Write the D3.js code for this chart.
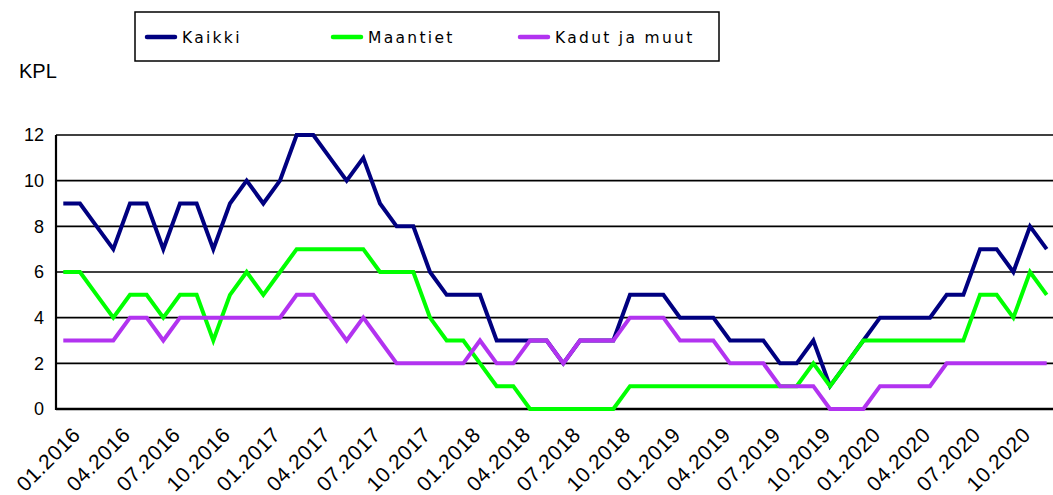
<!DOCTYPE html>
<html>
<head>
<meta charset="utf-8">
<script src="https://cdn.jsdelivr.net/npm/d3@7"></script>
<style>
  body { margin: 0; background: #fff; }
  svg { display: block; }
  .tick text { font-family: "Liberation Sans", Arial, sans-serif; }
</style>
</head>
<body>
<div id="chart"></div>
<script>
const months = [];
["2016", "2017", "2018", "2019", "2020"].forEach((yr) => {
  for (let m = 1; m <= 12; m++) months.push((m < 10 ? "0" + m : "" + m) + "." + yr);
});

const kaikki = [9,9,8,7,9,9,7,9,9,7,9,10,9,10,12,12,
  11,10,11,9,8,8,6,5,5,5,3,3,3,
  3,2,3,3,3,
  5,5,5,4,4,4,3,3,3,2,
  2,3,1,2,3,4,4,4,4,5,5,7,7,6,8,7];

const maantiet = [6,6,5,4,5,5,4,5,5,3,5,6,5,6,7,7,
  7,7,7,6,6,6,4,3,3,2,1,1,0,
  0,0,0,0,0,
  1,1,1,1,1,1,1,1,1,1,
  1,2,1,2,3,3,3,3,3,3,3,5,5,4,6,5];

const kadut = [3,3,3,3,4,4,3,4,4,4,4,4,4,4,5,5,
  4,3,4,3,2,2,2,2,2,3,2,2,3,
  3,2,3,3,3,
  4,4,4,3,3,3,2,2,2,1,
  1,1,0,0,0,1,1,1,1,2,2,2,2,2,2,2];

const yTicks = [0, 2, 4, 6, 8, 10, 12];

const seriesNames = ["Kaikki", "Maantiet", "Kadut ja muut"];
const seriesColors = ["#000080", "#00ff00", "#b233f0"];
const seriesValues = [kaikki, maantiet, kadut];

const W = 1053, H = 495;
const plotLeft = 56, plotRight = 1053, plotTop = 135, plotBottom = 409;

const svg = d3.select("#chart")
  .append("svg")
  .attr("width", W)
  .attr("height", H);

const x = d3.scalePoint()
  .domain(months)
  .range([63.3, 1046.7]);

const y = d3.scaleLinear()
  .domain([0, 12])
  .range([plotBottom, plotTop]);

// gridlines
svg.append("g")
  .selectAll("line")
  .data(yTicks.filter((d) => d > 0))
  .join("line")
  .attr("x1", plotLeft)
  .attr("x2", plotRight)
  .attr("y1", (d) => y(d))
  .attr("y2", (d) => y(d))
  .attr("stroke", "#000")
  .attr("stroke-width", 1.6);

// y axis
const yAxis = svg.append("g")
  .attr("transform", "translate(" + plotLeft + ",0)")
  .call(d3.axisLeft(y).tickValues(yTicks).tickSize(0).tickPadding(12));
yAxis.select(".domain").remove();
yAxis.selectAll("text")
  .attr("font-size", 18)
  .attr("fill", "#000");

svg.append("line")
  .attr("x1", plotLeft)
  .attr("x2", plotLeft)
  .attr("y1", plotTop)
  .attr("y2", plotBottom + 1)
  .attr("stroke", "#000")
  .attr("stroke-width", 2.2);

svg.append("line")
  .attr("x1", plotLeft)
  .attr("x2", plotRight)
  .attr("y1", plotBottom)
  .attr("y2", plotBottom)
  .attr("stroke", "#000")
  .attr("stroke-width", 2.4);

// x labels
const xAxis = svg.append("g")
  .attr("transform", "translate(0," + plotBottom + ")")
  .call(d3.axisBottom(x).tickValues(months.filter((d, i) => i % 3 === 0)).tickSize(0));
xAxis.select(".domain").remove();
xAxis.selectAll("text")
  .attr("font-size", 21)
  .attr("letter-spacing", 0.6)
  .attr("fill", "#000")
  .attr("text-anchor", "end")
  .attr("dy", 0)
  .attr("y", 0)
  .attr("transform", "translate(18,27) rotate(-45)");

svg.append("text")
  .attr("x", 19)
  .attr("y", 78)
  .attr("font-family", "Liberation Sans, Arial, sans-serif")
  .attr("font-size", 20)
  .text("KPL");

// lines
const line = d3.line()
  .x((d, i) => x(months[i]))
  .y((d) => y(d));

seriesValues.forEach((vals, k) => {
  svg.append("path")
    .datum(vals)
    .attr("fill", "none")
    .attr("stroke", seriesColors[k])
    .attr("stroke-width", 4)
    .attr("d", line);
});

// legend
const legend = svg.append("g");
legend.append("rect")
  .attr("x", 135)
  .attr("y", 12)
  .attr("width", 584)
  .attr("height", 49)
  .attr("fill", "#fff")
  .attr("stroke", "#000")
  .attr("stroke-width", 1.5);

const legendX = [145, 331, 518];
seriesNames.forEach((name, k) => {
  legend.append("line")
    .attr("x1", legendX[k] + 2)
    .attr("x2", legendX[k] + 30)
    .attr("y1", 37)
    .attr("y2", 37)
    .attr("stroke", seriesColors[k])
    .attr("stroke-width", 4.5)
    .attr("stroke-linecap", "round");
  legend.append("text")
    .attr("x", legendX[k] + 37)
    .attr("y", 42.5)
    .attr("font-family", "DejaVu Sans, Verdana, sans-serif")
    .attr("font-size", 15.5)
    .attr("letter-spacing", 2.3)
    .text(name);
});
</script>
</body>
</html>
